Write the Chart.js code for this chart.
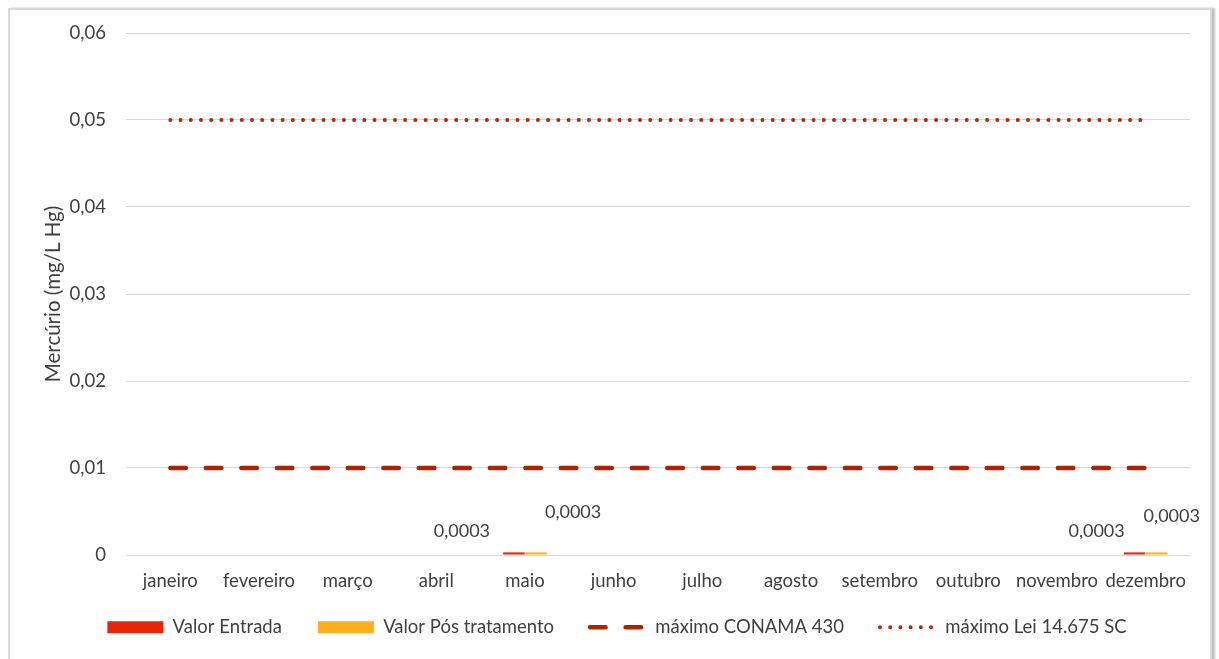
<!DOCTYPE html>
<html>
<head>
<meta charset="utf-8">
<script src="https://cdn.jsdelivr.net/npm/chart.js@4/dist/chart.umd.min.js"></script>
<style>
  html, body { margin: 0; padding: 0; background: #ffffff; width: 1219px; height: 659px; overflow: hidden; }
  #frame {
    position: absolute; left: 8px; top: 8px; width: 1204px; height: 700px;
    border: 2px solid #d9d9d9; box-sizing: border-box; background: #fff;
    box-shadow: 3px 0 2px rgba(0,0,0,0.25);
  }
  #wrap { position: absolute; left: 0; top: 0; width: 1219px; height: 659px; }
</style>
</head>
<body>
<div id="frame"></div>
<div id="wrap"><canvas id="chart" width="1219" height="659"></canvas></div>
<script>
// Months of the monitoring year
const months = ['janeiro', 'fevereiro', 'março', 'abril', 'maio', 'junho',
                'julho', 'agosto', 'setembro', 'outubro', 'novembro', 'dezembro'];

// Mercury measured at the inlet and after treatment (mg/L Hg)
const valorEntrada = [null, null, null, null, 0.0003, null, null, null, null, null, null, 0.0003];
const valorPos     = [null, null, null, null, 0.0003, null, null, null, null, null, null, 0.0003];

// Regulatory limits
const maxConama = [0.01, 0.01, 0.01, 0.01, 0.01, 0.01, 0.01, 0.01, 0.01, 0.01, 0.01, 0.01];
const maxLeiSC  = [0.05, 0.05, 0.05, 0.05, 0.05, 0.05, 0.05, 0.05, 0.05, 0.05, 0.05, 0.05];

// Y axis ticks
const yTicks = [0, 0.01, 0.02, 0.03, 0.04, 0.05, 0.06];

const FONT = 'Lato, "Open Sans", sans-serif';
const TEXT = '#404040';
const FS = 18.5;

const fmt = v => (v === 0 ? '0' : String(v).replace('.', ','));

// Value labels placed beside the bars (pixel offsets from bar top centre)
const labelOffsets = {
  0: { 4: [-52, -21], 11: [-38, -21] },
  1: { 4: [37, -40], 11: [15, -36] }
};

const valueLabels = {
  id: 'valueLabels',
  afterDatasetsDraw(chart) {
    const ctx = chart.ctx;
    ctx.save();
    ctx.font = '18px ' + FONT;
    ctx.fillStyle = TEXT;
    ctx.textAlign = 'center';
    ctx.textBaseline = 'middle';
    [0, 1].forEach(di => {
      const meta = chart.getDatasetMeta(di);
      const data = chart.data.datasets[di].data;
      meta.data.forEach((bar, i) => {
        if (data[i] == null) return;
        const off = (labelOffsets[di] && labelOffsets[di][i]) || [0, -12];
        ctx.fillText(fmt(data[i]), bar.x + off[0], bar.y + off[1]);
      });
    });
    ctx.restore();
  }
};

// Keeps the wide horizontal spacing of the legend items while giving the
// legend a compact height and pulling it closer to the month labels
const LEGEND_HEIGHT = 54;
const LEGEND_LIFT = 23;
const compactLegend = {
  id: 'compactLegend',
  beforeLayout(chart) {
    const legend = chart.legend;
    if (legend && !legend._compact) {
      const fit = legend.fit.bind(legend);
      legend.fit = function () { fit(); this.height = LEGEND_HEIGHT; };
      legend._compact = true;
    }
  },
  afterLayout(chart) {
    const legend = chart.legend;
    if (legend) { legend.top -= LEGEND_LIFT; legend.bottom -= LEGEND_LIFT; }
  }
};

new Chart(document.getElementById('chart'), {
  data: {
    labels: months,
    datasets: [
      { type: 'bar', label: 'Valor Entrada', data: valorEntrada,
        backgroundColor: '#e5260b', categoryPercentage: 0.5, barPercentage: 0.97, order: 3 },
      { type: 'bar', label: 'Valor Pós tratamento', data: valorPos,
        backgroundColor: '#ffae1e', categoryPercentage: 0.5, barPercentage: 0.97, order: 4 },
      { type: 'line', label: 'máximo CONAMA 430', data: maxConama,
        borderColor: '#b02100', backgroundColor: '#b02100', borderWidth: 4.5,
        borderDash: [15.5, 20], borderCapStyle: 'round', pointRadius: 0, fill: false, order: 1 },
      { type: 'line', label: 'máximo Lei 14.675 SC', data: maxLeiSC,
        borderColor: '#b5250a', backgroundColor: '#b5250a', borderWidth: 4,
        borderDash: [0.01, 10.2], borderCapStyle: 'round', pointRadius: 0, fill: false, order: 2 }
    ]
  },
  options: {
    responsive: false,
    animation: false,
    devicePixelRatio: 1,
    layout: { padding: { top: 33, right: 29, left: 44, bottom: 0 } },
    plugins: {
      tooltip: { enabled: false },
      legend: {
        position: 'bottom',
        labels: {
          usePointStyle: true,
          pointStyleWidth: 56,
          boxHeight: 12,
          padding: 36,
          color: TEXT,
          font: { family: FONT, size: FS },
          generateLabels(chart) {
            return chart.data.datasets.map((ds, i) => ({
              text: ds.label,
              fillStyle: ds.backgroundColor,
              strokeStyle: ds.type === 'line' ? ds.borderColor : ds.backgroundColor,
              lineWidth: ds.type === 'line' ? ds.borderWidth : 0,
              lineDash: ds.type === 'line' ? ds.borderDash : [],
              lineCap: ds.type === 'line' ? 'round' : 'butt',
              pointStyle: ds.type === 'line' ? 'line' : 'rect',
              fontColor: TEXT,
              hidden: false,
              datasetIndex: i
            }));
          }
        }
      }
    },
    scales: {
      x: {
        grid: { display: false, drawTicks: false },
        border: { display: false },
        ticks: { color: TEXT, font: { family: FONT, size: FS }, padding: 15, maxRotation: 0, autoSkip: false },
        afterFit(scale) { scale.height = 50; }
      },
      y: {
        min: 0, max: 0.06,
        afterBuildTicks(scale) { scale.ticks = yTicks.map(v => ({ value: v })); },
        grid: { color: '#d9d9d9', lineWidth: 1, drawTicks: false },
        border: { display: false },
        ticks: { color: TEXT, font: { family: FONT, size: FS }, padding: 20, callback: v => fmt(v) },
        title: { display: true, text: 'Mercúrio (mg/L Hg)', color: TEXT,
                 font: { family: FONT, size: 20.5 }, padding: { top: -3, bottom: 0 } },
        afterFit(scale) { scale.width = 82; }
      }
    }
  },
  plugins: [valueLabels, compactLegend]
});
</script>
</body>
</html>
